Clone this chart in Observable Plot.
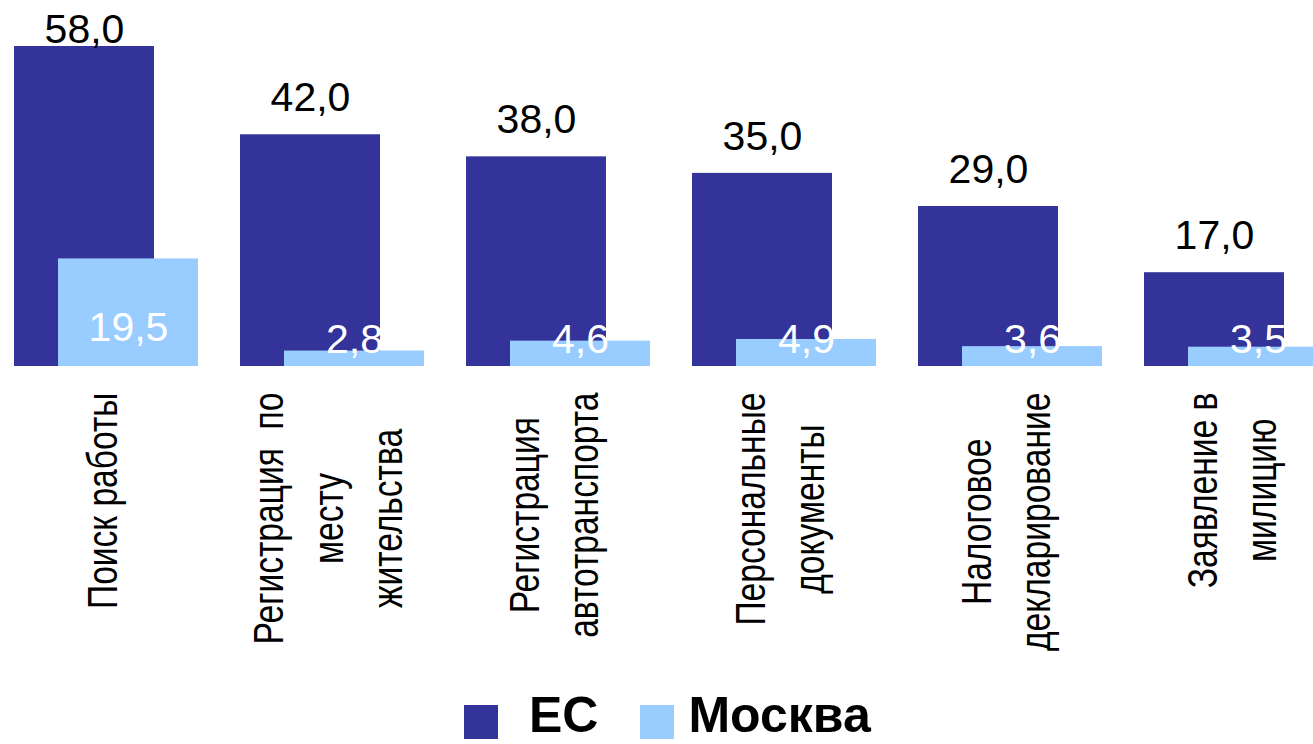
<!DOCTYPE html>
<html>
<head>
<meta charset="utf-8">
<script src="https://cdn.jsdelivr.net/npm/d3@7"></script>
<script src="https://cdn.jsdelivr.net/npm/@observablehq/plot@0.6"></script>
<style>
  html, body { margin: 0; padding: 0; background: #fff; overflow: hidden; }
  #chart svg { overflow: hidden; }
  .legend { display: flex; align-items: flex-end; height: 54px; padding-left: 464px; font-family: "Liberation Sans", Arial, sans-serif; font-weight: bold; font-size: 50px; color: #000; }
  .legend .sw { width: 34px; height: 34px; display: inline-block; margin-bottom: 5px; }
  .legend span.t { display: inline-block; line-height: 37px; position: relative; top: -10px; }
</style>
</head>
<body>
<div id="chart"></div>
<div class="legend">
  <span class="sw" style="background:#333399"></span><span class="t" style="margin-left:31px">ЕС</span>
  <span class="sw" style="background:#99CCFF;margin-left:42px"></span><span class="t" style="margin-left:14px">Москва</span>
</div>
<script>
const categories = ["Поиск работы", "Регистрация по месту жительства", "Регистрация автотранспорта", "Персональные документы", "Налоговое декларирование", "Заявление в милицию"];
const labelLines = [
  ["Поиск работы"],
  ["Регистрация  по", "месту", "жительства"],
  ["Регистрация", "автотранспорта"],
  ["Персональные", "документы"],
  ["Налоговое", "декларирование"],
  ["Заявление в", "милицию"]
];
const ecValues = [58.0, 42.0, 38.0, 35.0, 29.0, 17.0];
const moscowValues = [19.5, 2.8, 4.6, 4.9, 3.6, 3.5];
const seriesNames = ["ЕС", "Москва"];
const seriesColors = ["#333399", "#99CCFF"];

const ec = categories.map((c, i) => ({category: c, value: ecValues[i]}));
const moscow = categories.map((c, i) => ({category: c, value: moscowValues[i]}));
const fmt = v => v.toFixed(1).replace(".", ",");
const ecMax = d3.max(ecValues);

const labelFont = '"Liberation Sans", Arial, sans-serif';
const labelSize = 42;
const labelStretch = 0.8;
const valueFont = '"Liberation Sans", Arial, sans-serif';
const valueSize = 41;

const ctx = document.createElement("canvas").getContext("2d");
ctx.font = `${labelSize}px ${labelFont}`;
const blockLen = labelLines.map(lines => d3.max(lines, l => ctx.measureText(l).width) * labelStretch);

const labelMarks = categories.map((c, i) => Plot.text([c], {
  x: d => d,
  y: () => 0,
  text: () => labelLines[i].join("\n"),
  rotate: -90,
  textAnchor: "middle",
  lineAnchor: "middle",
  lineHeight: 1.42,
  fontSize: labelSize,
  fontFamily: labelFont,
  fill: "#000",
  className: "cat-label",
  dx: -9,
  dy: 26 + blockLen[i] / 2
}));

const chart = Plot.plot({
  width: 1313,
  height: 690,
  marginTop: 46,
  marginBottom: 324,
  marginLeft: 0,
  marginRight: 0,
  x: {type: "band", domain: categories, range: [13, 1328.2], paddingInner: 0.1857, paddingOuter: 0, axis: null},
  y: {domain: [0, ecMax], axis: null},
  marks: [
    Plot.barY(ec, {x: "category", y: "value", fill: seriesColors[0], insetRight: 44}),
    Plot.barY(moscow, {x: "category", y: "value", fill: seriesColors[1], insetLeft: 44}),
    Plot.text(ec.filter(d => d.value < ecMax), {x: "category", y: "value", text: d => fmt(d.value), dx: -22, dy: -37, fontSize: valueSize, fontFamily: valueFont, fill: "#000"}),
    Plot.text(ec.filter(d => d.value >= ecMax), {x: "category", y: "value", text: d => fmt(d.value), dx: -22, dy: -17, fontSize: valueSize, fontFamily: valueFont, fill: "#000"}),
    Plot.text(moscow.filter(d => d.value >= 10), {x: "category", y: () => 0, text: d => fmt(d.value), dx: 22, dy: -39, fontSize: valueSize, fontFamily: valueFont, fill: "#fff"}),
    Plot.text(moscow.filter(d => d.value < 10), {x: "category", y: () => 0, text: d => fmt(d.value), dx: 22, dy: -27, fontSize: valueSize, fontFamily: valueFont, fill: "#fff"}),
    ...labelMarks
  ]
});
// condense the category labels along their reading direction
d3.select(chart).selectAll("g.cat-label text").each(function() {
  const t = this.getAttribute("transform") || "";
  this.setAttribute("transform", `${t} scale(${labelStretch},1)`);
});
document.getElementById("chart").appendChild(chart);
</script>
</body>
</html>
